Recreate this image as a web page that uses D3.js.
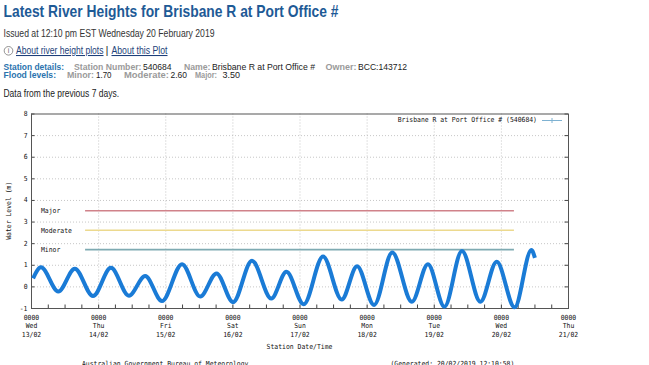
<!DOCTYPE html>
<html>
<head>
<meta charset="utf-8">
<script src="https://cdn.jsdelivr.net/npm/d3@7"></script>
<style>
  body { margin: 0; background: #fff; }
  svg { display: block; }
</style>
</head>
<body>
<script>
// day ticks along the bottom
var dayTicks = ["2019-02-13 00:00", "2019-02-14 00:00", "2019-02-15 00:00", "2019-02-16 00:00",
    "2019-02-17 00:00", "2019-02-18 00:00", "2019-02-19 00:00", "2019-02-20 00:00", "2019-02-21 00:00"];
var dayNames = ["Wed", "Thu", "Fri", "Sat", "Sun", "Mon", "Tue", "Wed", "Thu"];
var dayDates = ["13/02", "14/02", "15/02", "16/02", "17/02", "18/02", "19/02", "20/02", "21/02"];
var levelTicks = [-1, 0, 1, 2, 3, 4, 5, 6, 7, 8];

// tide readings (turning points)
var tideTimes = ["2019-02-13 00:45", "2019-02-13 03:35", "2019-02-13 09:45", "2019-02-13 15:40", "2019-02-13 22:10",
    "2019-02-14 04:35", "2019-02-14 11:00", "2019-02-14 16:50", "2019-02-14 22:50",
    "2019-02-15 06:00", "2019-02-15 12:30", "2019-02-15 18:20",
    "2019-02-16 00:15", "2019-02-16 07:00", "2019-02-16 13:55", "2019-02-16 19:20",
    "2019-02-17 01:30", "2019-02-17 08:25", "2019-02-17 15:05", "2019-02-17 20:35",
    "2019-02-18 02:40", "2019-02-18 09:10", "2019-02-18 16:10", "2019-02-18 21:55",
    "2019-02-19 03:50", "2019-02-19 10:05", "2019-02-19 16:40", "2019-02-19 22:30",
    "2019-02-20 04:55", "2019-02-20 10:55", "2019-02-20 12:10"];
var tideLevels = [0.37, 0.88, -0.24, 0.82, -0.45,
    0.86, -0.43, 0.48, -0.68,
    1.03, -0.47, 0.60,
    -0.73, 1.19, -0.56, 0.68,
    -0.83, 1.38, -0.61, 0.93,
    -0.86, 1.57, -0.71, 1.03,
    -0.94, 1.64, -0.71, 1.14,
    -0.97, 1.68, 1.32];

// flood classification lines
var floodNames = ["Minor", "Moderate", "Major"];
var floodLevels = [1.70, 2.60, 3.50];
var floodColors = ["#7eaab2", "#ecd98e", "#d0828a"];
var floodFrom = "2019-02-13 19:20";
var floodTo = "2019-02-20 04:40";

var parse = d3.utcParse("%Y-%m-%d %H:%M");

var svg = d3.select("body").append("svg")
    .attr("width", 649)
    .attr("height", 365);

// text helper: squeeze each string to the width it has in the picture
function txt(x, y, s, w, opts) {
    opts = opts || {};
    var t = svg.append("text")
        .attr("x", x).attr("y", y)
        .attr("font-family", opts.family || "'Liberation Sans', Arial, sans-serif")
        .attr("font-size", opts.size || 11)
        .attr("font-weight", opts.weight || "normal")
        .attr("fill", opts.fill || "#222")
        .text(s);
    if (w) t.attr("textLength", w).attr("lengthAdjust", "spacingAndGlyphs");
    if (opts.underline) t.attr("text-decoration", "underline");
    return t;
}

// ---- page header ----
txt(3.5, 17, "Latest River Heights for Brisbane R at Port Office #", 335, {size: 16.5, weight: "bold", fill: "#1e5a96"});
txt(3.5, 37, "Issued at 12:10 pm EST Wednesday 20 February 2019", 211, {size: 10.5, fill: "#333"});

svg.append("circle").attr("cx", 8.5).attr("cy", 50.8).attr("r", 4.3)
    .attr("fill", "none").attr("stroke", "#777").attr("stroke-width", 0.8);
txt(8.5, 53.3, "i", null, {size: 7, fill: "#666"}).attr("text-anchor", "middle");
txt(16, 54, "About river height plots", 87.5, {size: 10.5, fill: "#1d3f7a", underline: true});
txt(105.5, 54, "|", 3, {size: 10.5, fill: "#333"});
txt(111.5, 54, "About this Plot", 56, {size: 10.5, fill: "#1d3f7a", underline: true});

var blue = "#2a73ae", grey = "#9a9a9a";
var row = {size: 9.5};
txt(3.5, 70, "Station details:", 60.5, {size: 9.5, weight: "bold", fill: blue});
txt(74, 70, "Station Number:", 67.5, {size: 9.5, weight: "bold", fill: grey});
txt(143, 70, "540684", 28.5, row);
txt(184, 70, "Name:", 26.5, {size: 9.5, weight: "bold", fill: grey});
txt(212, 70, "Brisbane R at Port Office #", 103, row);
txt(325.5, 70, "Owner:", 31, {size: 9.5, weight: "bold", fill: grey});
txt(358, 70, "BCC:143712", 49, row);

txt(3.5, 77.5, "Flood levels:", 52.5, {size: 9.5, weight: "bold", fill: blue});
txt(67, 77.5, "Minor:", 27, {size: 9.5, weight: "bold", fill: grey});
txt(96, 77.5, "1.70", 15.5, row);
txt(124, 77.5, "Moderate:", 45, {size: 9.5, weight: "bold", fill: grey});
txt(170.5, 77.5, "2.60", 16.5, row);
txt(195, 77.5, "Major:", 22, {size: 9.5, weight: "bold", fill: grey});
txt(222.5, 77.5, "3.50", 17.5, row);

txt(3.5, 96.5, "Data from the previous 7 days.", 115.5, {size: 10.5, fill: "#222"});

// ---- plot ----
var x = d3.scaleUtc()
    .domain([parse(dayTicks[0]), parse(dayTicks[dayTicks.length - 1])])
    .range([31, 568]);
var y = d3.scaleLinear()
    .domain([-1, 8])
    .range([308, 113.5]);

var mono = {family: "'DejaVu Sans Mono', 'Liberation Mono', monospace", size: 7, fill: "#111"};
var cw = 3.87; // width of one character in the plot font

// grid
svg.append("g").selectAll("line").data(levelTicks.slice(1, -1)).enter().append("line")
    .attr("x1", x.range()[0]).attr("x2", x.range()[1])
    .attr("y1", function(d) { return y(d) + 0.5; }).attr("y2", function(d) { return y(d) + 0.5; })
    .attr("stroke", "#b8b8b8").attr("stroke-width", 0.8).attr("stroke-dasharray", "1,2");
svg.append("g").selectAll("line").data(dayTicks.slice(1, -1)).enter().append("line")
    .attr("x1", function(d) { return x(parse(d)) + 0.5; }).attr("x2", function(d) { return x(parse(d)) + 0.5; })
    .attr("y1", y.range()[1]).attr("y2", y.range()[0])
    .attr("stroke", "#b8b8b8").attr("stroke-width", 0.8).attr("stroke-dasharray", "1,2");

// axes with inward ticks
var xAxis = d3.axisTop(x)
    .ticks(d3.utcHour.every(6))
    .tickSize(3.5)
    .tickFormat("");
svg.append("g")
    .attr("transform", "translate(0," + y.range()[0] + ")")
    .call(xAxis)
    .call(function(g) { g.select(".domain").remove(); g.selectAll("line").attr("stroke", "#444"); });

svg.append("g")
    .attr("transform", "translate(" + x.range()[0] + ",0)")
    .call(d3.axisRight(y).tickValues(levelTicks).tickSize(3.5).tickFormat(""))
    .call(function(g) { g.select(".domain").remove(); g.selectAll("line").attr("stroke", "#444"); });
svg.append("g")
    .attr("transform", "translate(" + x.range()[1] + ",0)")
    .call(d3.axisLeft(y).tickValues(levelTicks).tickSize(3.5).tickFormat(""))
    .call(function(g) { g.select(".domain").remove(); g.selectAll("line").attr("stroke", "#444"); });

// y tick labels
levelTicks.forEach(function(v) {
    var s = String(v);
    txt(27.5, y(v) + 2.5, s, s.length * cw, mono).attr("text-anchor", "end");
});

// x tick labels
dayTicks.forEach(function(d, i) {
    var cx = x(parse(d)) + 0.5;
    txt(cx, 319.5, "0000", 4 * cw, mono).attr("text-anchor", "middle");
    txt(cx, 328, dayNames[i], 3 * cw, mono).attr("text-anchor", "middle");
    txt(cx, 337, dayDates[i], 5 * cw, mono).attr("text-anchor", "middle");
});

txt((x.range()[0] + x.range()[1]) / 2, 348.5, "Station Date/Time", 17 * cw, mono).attr("text-anchor", "middle");
txt(0, 0, "Water Level (m)", 15 * cw, mono)
    .attr("text-anchor", "middle")
    .attr("transform", "translate(11," + ((y.range()[0] + y.range()[1]) / 2) + ") rotate(-90)");

// flood lines
floodLevels.forEach(function(v, i) {
    svg.append("line")
        .attr("x1", x(parse(floodFrom))).attr("x2", x(parse(floodTo)))
        .attr("y1", y(v)).attr("y2", y(v))
        .attr("stroke", floodColors[i]).attr("stroke-width", 1.6);
    txt(41, y(v) + 2.5, floodNames[i], floodNames[i].length * cw, mono);
});

// frame
svg.append("rect")
    .attr("x", x.range()[0] + 0.5).attr("y", y.range()[1] + 0.5)
    .attr("width", x.range()[1] - x.range()[0]).attr("height", y.range()[0] - y.range()[1])
    .attr("fill", "none").attr("stroke", "#555").attr("stroke-width", 1);

// legend
txt(537, 122, "Brisbane R at Port Office # (540684)", 36 * cw, mono).attr("text-anchor", "end");
svg.append("line").attr("x1", 542).attr("x2", 562).attr("y1", 120.5).attr("y2", 120.5)
    .attr("stroke", "#7fb2d2").attr("stroke-width", 1);
svg.append("path").attr("d", "M549.5,120.5h5M552,118v5")
    .attr("stroke", "#7fb2d2").attr("stroke-width", 1);

// water level trace
var tide = tideTimes.map(function(t, i) { return [parse(t), tideLevels[i]]; });
var line = d3.line()
    .x(function(d) { return x(d[0]); })
    .y(function(d) { return y(d[1]); })
    .curve(d3.curveMonotoneX);
svg.append("path")
    .datum(tide)
    .attr("d", line)
    .attr("fill", "none")
    .attr("stroke", "#1a7bd6")
    .attr("stroke-width", 4)
    .attr("stroke-linejoin", "round");

// footer (runs off the bottom edge, as in the original capture)
txt(82, 365.5, "Australian Government Bureau of Meteorology", 43 * cw, mono);
txt(390.5, 365.5, "(Generated: 20/02/2019 12:10:58)", 32 * cw, mono);
</script>
</body>
</html>
